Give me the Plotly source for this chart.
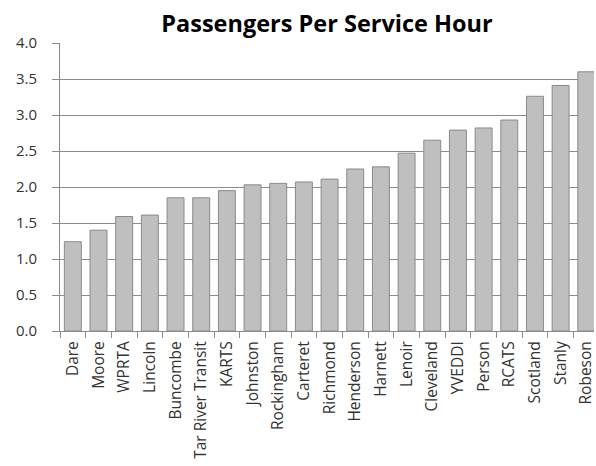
import plotly.graph_objects as go

# Transit systems, sorted by passengers per service hour
systems = ["Dare", "Moore", "WPRTA", "Lincoln", "Buncombe", "Tar River Transit",
           "KARTS", "Johnston", "Rockingham", "Carteret", "Richmond", "Henderson",
           "Harnett", "Lenoir", "Cleveland", "YVEDDI", "Person", "RCATS",
           "Scotland", "Stanly", "Robeson"]
passengers_per_hour = [1.24, 1.40, 1.59, 1.61, 1.85, 1.85,
                       1.95, 2.03, 2.05, 2.07, 2.11, 2.25,
                       2.28, 2.47, 2.65, 2.79, 2.82, 2.93,
                       3.26, 3.41, 3.60]
y_ticks = [0.0, 0.5, 1.0, 1.5, 2.0, 2.5, 3.0, 3.5, 4.0]

TEXT = "#333333"
GRID = "#8c8c8c"
FONT = "Open Sans"

fig = go.Figure(
    go.Bar(
        x=systems,
        y=passengers_per_hour,
        marker=dict(color="#bfbfbf", line=dict(color="#8a8a8a", width=1)),
        width=0.66,
    )
)

fig.update_layout(
    width=596,
    height=466,
    margin=dict(l=60, r=0, t=43, b=135),
    plot_bgcolor="white",
    paper_bgcolor="white",
    showlegend=False,
    title=dict(
        text="<b>Passengers Per Service Hour</b>",
        font=dict(family=FONT, size=23.5, color="black"),
        xref="paper", x=0.5, xanchor="center",
        yref="container", y=1 - 24 / 466, yanchor="middle",
    ),
    font=dict(family=FONT, size=15, color=TEXT),
)

fig.update_xaxes(
    type="category",
    range=[-0.5, 20.3],
    tickangle=-90,
    tickson="boundaries",
    ticks="outside",
    ticklen=6,
    tickcolor=GRID,
    showline=True,
    linecolor=GRID,
    linewidth=1,
    showgrid=False,
    ticklabelstandoff=3,
    tickfont=dict(family=FONT, size=15.5, color=TEXT),
)

fig.update_yaxes(
    range=[0, 4.0],
    tickvals=y_ticks,
    ticktext=[f"{v:.1f}" for v in y_ticks],
    ticks="outside",
    ticklen=7,
    tickcolor=GRID,
    showline=True,
    linecolor=GRID,
    linewidth=1,
    showgrid=True,
    gridcolor=GRID,
    gridwidth=1,
    zeroline=False,
    ticklabelstandoff=12,
    tickfont=dict(family=FONT, size=15, color=TEXT),
)

fig.write_html("out.html")
